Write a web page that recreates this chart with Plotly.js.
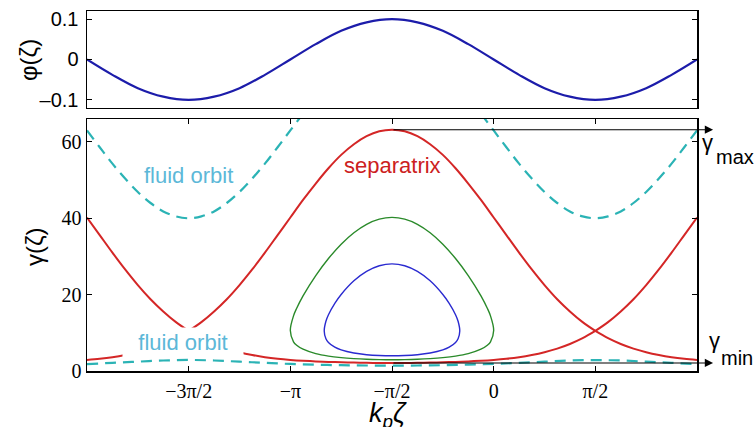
<!DOCTYPE html>
<html><head><meta charset="utf-8">
<script src="https://cdn.plot.ly/plotly-3.0.1.min.js"></script>
<style>html,body{margin:0;padding:0;background:#fff}#chart{width:755px;height:427px}</style>
</head><body><div id="chart"></div>
<script>
// x positions are k_p*zeta in units of pi
const xFine = [-2,-1.9375,-1.875,-1.8125,-1.75,-1.6875,-1.625,-1.5625,-1.5,-1.4375,-1.375,-1.3125,-1.25,-1.1875,-1.125,-1.0625,
  -1,-0.9375,-0.875,-0.8125,-0.75,-0.6875,-0.625,-0.5625,-0.5,-0.4375,-0.375,-0.3125,-0.25,-0.1875,-0.125,-0.0625,
  0,0.0625,0.125,0.1875,0.25,0.3125,0.375,0.4375,0.5,0.5625,0.625,0.6875,0.75,0.8125,0.875,0.9375,1];
const xCoarse = [-2,-1.875,-1.75,-1.625,-1.5,-1.375,-1.25,-1.125,-1,-0.875,-0.75,-0.625,-0.5,-0.375,-0.25,-0.125,0,0.125,0.25,0.375,0.5,0.625,0.75,0.875,1];

// top panel: potential phi(zeta)
const phi = [0,-0.038,-0.071,-0.092,-0.1,-0.092,-0.071,-0.038,0,0.038,0.071,0.092,0.1,0.092,0.071,0.038,0,-0.038,-0.071,-0.092,-0.1,-0.092,-0.071,-0.038,0];

// separatrix (upper and lower branches) on xFine
const sepUpper = [40.2,35.6,31.0,26.6,22.5,18.8,15.6,12.8,10.5,12.8,15.6,18.8,22.5,26.6,31.0,35.6,
  40.2,44.8,49.1,53.1,56.6,59.4,61.5,62.8,63.2,62.8,61.5,59.4,56.6,53.1,49.1,44.8,
  40.2,35.6,31.0,26.6,22.5,18.8,15.6,12.8,10.5,12.8,15.6,18.8,22.5,26.6,31.0,35.6,40.2];
const sepLower = [2.9,3.2,3.62,4.19,4.92,5.87,7.08,8.6,10.5,8.6,7.08,5.87,4.92,4.19,3.62,3.2,
  2.9,2.68,2.52,2.38,2.28,2.2,2.15,2.1,2.1,2.1,2.15,2.2,2.28,2.38,2.52,2.68,
  2.9,3.2,3.62,4.19,4.92,5.87,7.08,8.6,10.5,8.6,7.08,5.87,4.92,4.19,3.62,3.2,2.9];
const xPoints = [-1.5, 0.5]; // X-points of the separatrix

// fluid orbits
const fluidUpper = [63.0,58.6,54.3,50.4,46.9,44.0,41.8,40.5,40.0,40.5,41.8,44.0,46.9,50.4,54.3,58.6,
  63.0,67.4,null,null,null,null,null,null,null,null,null,null,null,null,null,67.4,
  63.0,58.6,54.3,50.4,46.9,44.0,41.8,40.5,40.0,40.5,41.8,44.0,46.9,50.4,54.3,58.6,63.0];
const fluidLower = [1.8,2.14,2.45,2.75,2.9,2.75,2.45,2.14,1.85,1.66,1.52,1.44,1.4,1.44,1.52,1.66,1.85,2.14,2.45,2.75,2.85,2.75,2.45,2.14,1.8];

// closed (trapped) orbits
const greenX = [-0.5,-0.5625,-0.625,-0.6875,-0.75,-0.8125,-0.875,-0.9375,-0.96875,-0.984375,-1,
  -0.984375,-0.96875,-0.9375,-0.875,-0.8125,-0.75,-0.6875,-0.625,-0.5625,-0.5,-0.4375,-0.375,-0.3125,-0.25,-0.1875,-0.125,-0.0625,-0.03125,-0.015625,0,
  -0.015625,-0.03125,-0.0625,-0.125,-0.1875,-0.25,-0.3125,-0.375,-0.4375,-0.5];
const greenY = [2.95,2.98,3.07,3.24,3.5,3.9,4.55,5.7,6.75,7.65,10.6,
  14.44,16.44,19.68,24.99,29.46,33.21,36.22,38.43,39.78,40.23,39.78,38.43,36.22,33.21,29.46,24.99,19.68,16.44,14.44,10.6,
  7.65,6.75,5.7,4.55,3.9,3.5,3.24,3.07,2.98,2.95];
const blueX = [-0.5,-0.5625,-0.625,-0.6875,-0.75,-0.78125,-0.8125,-0.825,-0.8333,
  -0.825,-0.8125,-0.78125,-0.75,-0.6875,-0.625,-0.5625,-0.5,-0.4375,-0.375,-0.3125,-0.25,-0.21875,-0.1875,-0.175,-0.1667,
  -0.175,-0.1875,-0.21875,-0.25,-0.3125,-0.375,-0.4375,-0.5];
const blueY = [3.98,4.05,4.27,4.71,5.53,6.24,7.49,8.46,10.5,
  13.03,14.74,17.73,20.04,23.61,26.08,27.56,28.05,27.56,26.08,23.61,20.04,17.73,14.74,13.03,10.5,
  8.46,7.49,6.24,5.53,4.71,4.27,4.05,3.98];

const gammaMax = 63.2, gammaMin = 2.1;
const xTickVals = [-1.5,-1,-0.5,0,0.5];
const xTickText = ['\u22123\u03c0/2','\u2212\u03c0','\u2212\u03c0/2','0','\u03c0/2'];
const yTickVals = [0,20,40,60];
const phiTickVals = [-0.1,0,0.1];
const phiTickText = ['\u20130.1','0','0.1'];

function splitArcs(xs, ys, breaks){
  const X=[],Y=[];
  for(let i=0;i<xs.length;i++){
    X.push(xs[i]); Y.push(ys[i]);
    if(breaks.includes(xs[i]) && i>0 && i<xs.length-1){ X.push(null); Y.push(null); X.push(xs[i]); Y.push(ys[i]); }
  }
  return {X,Y};
}
const su = splitArcs(xFine, sepUpper, xPoints);
const sl = splitArcs(xFine, sepLower, xPoints);

const RED='#d42626', TEAL='#2bb3b5';
const data = [
  {x:xCoarse, y:phi, xaxis:'x2', yaxis:'y2', mode:'lines', line:{color:'#1c1caa', width:2.2, shape:'spline'}},
  {x:xFine, y:fluidUpper, mode:'lines', line:{color:TEAL, width:2.2, dash:'11px,7px', shape:'spline'}},
  {x:xCoarse, y:fluidLower, mode:'lines', line:{color:TEAL, width:2.2, dash:'11px,7px', shape:'spline'}},
  {x:su.X, y:su.Y, mode:'lines', line:{color:RED, width:2, shape:'spline'}},
  {x:sl.X, y:sl.Y, mode:'lines', line:{color:RED, width:2, shape:'spline'}},
  {x:greenX, y:greenY, mode:'lines', line:{color:'#2a8a2a', width:1.4, shape:'spline'}},
  {x:blueX, y:blueY, mode:'lines', line:{color:'#2a2ad0', width:1.4, shape:'spline'}}
];

const axCommon = {showline:true, linecolor:'black', linewidth:1.5, showgrid:false, zeroline:false,
  ticks:'inside', ticklen:5, tickwidth:1, tickcolor:'black', mirror:'ticks'};
const P = {xref:'paper', yref:'paper', xanchor:'center', yanchor:'middle', showarrow:false};
const layout = {
  width:755, height:427, margin:{l:87,r:58,t:11,b:56},
  paper_bgcolor:'white', plot_bgcolor:'white', showlegend:false,
  font:{family:'Liberation Sans, Arial, sans-serif', color:'black'},
  xaxis:Object.assign({}, axCommon, {domain:[0,1], range:[-2,1], anchor:'y', tickvals:xTickVals, ticktext:xTickText,
    tickfont:{family:'Liberation Serif, Times New Roman, serif', size:20}, ticklabelstandoff:1}),
  yaxis:Object.assign({}, axCommon, {domain:[0,0.7], range:[0,66], anchor:'x', tickvals:yTickVals,
    tickfont:{family:'Liberation Serif, Times New Roman, serif', size:20}, ticklabelstandoff:0}),
  xaxis2:Object.assign({}, axCommon, {domain:[0,1], range:[-2,1], anchor:'y2', ticks:'', mirror:true, showticklabels:false}),
  yaxis2:Object.assign({}, axCommon, {domain:[0.7306,1], range:[-0.12,0.12], anchor:'x2', tickvals:phiTickVals, ticktext:phiTickText,
    tickfont:{family:'Liberation Sans, Arial, sans-serif', size:20}, ticklabelstandoff:3}),
  annotations:[
    Object.assign({}, P, {x:-0.095, y:0.864, text:'\u03c6(\u03b6)', textangle:-90, font:{size:24}}),
    Object.assign({}, P, {x:-0.085, y:0.345, text:'\u03b3(\u03b6)', textangle:-90, font:{size:24}}),
    Object.assign({}, P, {x:0.494, y:-0.121, text:'<i>k<sub>p</sub>\u03b6</i>', font:{size:27}}),
    {xref:'x', yref:'y', x:-1.5, y:51.3, text:'fluid orbit', showarrow:false, font:{size:22, color:'#5cb8d8'}},
    {xref:'x', yref:'y', x:-1.53, y:7.5, text:'fluid orbit', showarrow:false, font:{size:22, color:'#5cb8d8'},
      bgcolor:'white', width:120, height:29, borderpad:0},
    {xref:'x', yref:'y', x:-0.5, y:53.9, text:'separatrix', showarrow:false, font:{size:22, color:'#cc2020'}},
    {xref:'x', yref:'y', x:1.079, y:gammaMax, axref:'x', ayref:'y', ax:-0.5, ay:gammaMax, text:'', showarrow:true,
      arrowhead:2, arrowsize:1.5, arrowwidth:1.1, arrowcolor:'black', standoff:0},
    {xref:'x', yref:'y', x:1.079, y:gammaMin, axref:'x', ayref:'y', ax:-0.5, ay:gammaMin, text:'', showarrow:true,
      arrowhead:2, arrowsize:1.5, arrowwidth:1.1, arrowcolor:'black', standoff:0},
    Object.assign({}, P, {x:1.0164, y:0.634, text:'\u03b3', font:{size:22}}),
    Object.assign({}, P, {x:1.0615, y:0.594, text:'max', font:{size:20}}),
    Object.assign({}, P, {x:1.0295, y:0.084, text:'\u03b3', font:{size:22}}),
    Object.assign({}, P, {x:1.066, y:0.036, text:'min', font:{size:20}})
  ]
};
Plotly.newPlot('chart', data, layout, {staticPlot:true});
</script></body></html>
